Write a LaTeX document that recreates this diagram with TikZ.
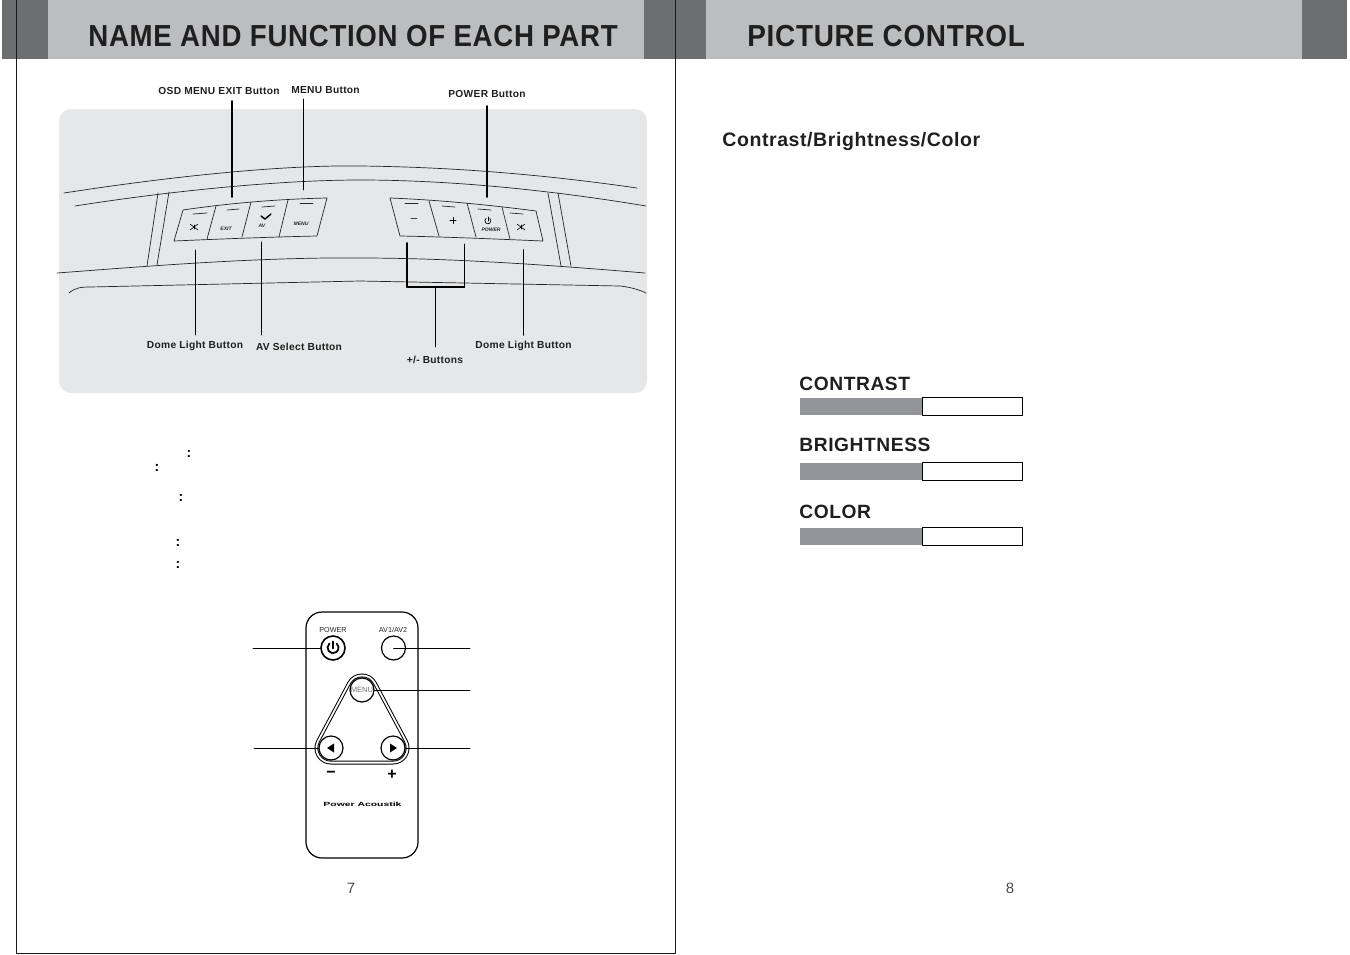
\documentclass[tikz,border=0pt]{standalone}
\usepackage{fontspec}
\setmainfont{Liberation Sans}
\newfontfamily\spacedfont[LetterSpace=3]{Liberation Sans}
\newfontfamily\titlefont[LetterSpace=2.5]{Liberation Sans}
\definecolor{bandlight}{HTML}{BCBDBF}
\definecolor{banddark}{HTML}{6D6E70}
\definecolor{panelgrey}{HTML}{E6E7E8}
\definecolor{barfill}{HTML}{939598}
\tikzset{
	title/.style={anchor=west,inner sep=0pt,xscale=0.91,font=\titlefont\fontsize{15.2}{16}\selectfont\bfseries,text=black!88},
	partlabel/.style={inner sep=0pt,font=\spacedfont\fontsize{5.1}{6}\selectfont\bfseries,text=black!88},
	barlabel/.style={anchor=west,inner sep=0pt,font=\spacedfont\fontsize{9.6}{11}\selectfont\bfseries,text=black!88},
	keylabel/.style={inner sep=0pt,font=\fontsize{2.5}{3}\selectfont\bfseries\itshape,text=black!85},
	colonmark/.style={inner sep=0pt,font=\fontsize{7}{8}\selectfont\bfseries},
	pagenum/.style={inner sep=0pt,font=\fontsize{7.5}{9}\selectfont,text=black!70},
	remotelabel/.style={inner sep=0pt,font=\fontsize{3.6}{4}\selectfont,text=black!85},
	remotekey/.style={circle,draw,fill=white,line width=0.6pt,minimum size=12pt,inner sep=0pt},
	thin leader/.style={line width=0.45pt},
	thick leader/.style={line width=0.95pt},
	outline/.style={line width=0.35pt,black!85},
	bar/.style={draw=black,line width=0.4pt,fill=white}
}
\begin{document}
\begin{tikzpicture}[line cap=round,line join=round,x=0.5pt,y=-0.5pt]
	\useasboundingbox (0,0) rectangle (1350,954);
	% header bands
	\fill[banddark] (2,0) rectangle (48,59);
	\fill[bandlight] (48,0) rectangle (644,59);
	\fill[banddark] (644,0) rectangle (706,59);
	\fill[bandlight] (706,0) rectangle (1302,59);
	\fill[banddark] (1302,0) rectangle (1347,59);
	\draw[line width=0.45pt,black!90] (16,0) -- (16,953) -- (675.5,953) -- (675.5,0);
	\node[title] (titleleft) at (88,36) {NAME AND FUNCTION OF EACH PART};
	\node[title,xscale=1.01] (titleright) at (747,36) {PICTURE CONTROL};
	% dashboard
	\fill[panelgrey,rounded corners=6pt] (59,109) rectangle (647,393);
	\draw[outline] (64,193) .. controls (200,172) and (300,165) .. (360,166) .. controls (450,167) and (540,174) .. (637,188);
	\draw[outline] (75,206) .. controls (170,191) and (280,180) .. (360,180) .. controls (450,180) and (550,190) .. (646,206);
	\draw[outline] (57,273) .. controls (150,266) and (260,257) .. (360,258) .. controls (450,258) and (550,265) .. (645,273);
	\draw[outline] (69,293) .. controls (75,288) and (80,287) .. (90,287) -- (360,281) -- (620,286) .. controls (630,287) and (640,290) .. (646,293);
	\draw[outline] (158,193) -- (147,266);
	\draw[outline] (169,192) -- (157,265);
	\draw[outline] (548,193) -- (561,266);
	\draw[outline] (558,193) -- (571,266);
	% left keys
	\draw[outline] (183,210) .. controls (230,203) and (280,199) .. (327,198) -- (317,236) .. controls (270,237) and (220,239) .. (174,241) -- cycle;
	\draw[outline] (216,206) -- (207,239);
	\draw[outline] (251,202) -- (242,237);
	\draw[outline] (288,200) -- (279,237);
	\draw[outline] (193,214) -- (207,213);
	\draw[outline] (227,210) -- (239,209);
	\draw[outline] (262,207) -- (275,206);
	\draw[outline] (300,203) -- (313,203);
	\draw[line width=0.3pt] (190,224) -- (198,230);
	\draw[line width=0.3pt] (190,230) -- (198,224);
	\draw[line width=0.3pt] (194,225) -- (194,229);
	\draw[line width=0.7pt] (261,216) -- (265,219) -- (271,214);
	\node[keylabel] (keyexit) at (226,229) {EXIT};
	\node[keylabel] (keyav) at (262,226) {AV};
	\node[keylabel] (keymenu) at (301,224) {MENU};
	% right keys
	\draw[outline] (390,198) .. controls (440,200) and (490,205) .. (536,211) -- (543,241) .. controls (495,239) and (450,237) .. (400,236) -- cycle;
	\draw[outline] (429,201) -- (439,236);
	\draw[outline] (467,203) -- (476,237);
	\draw[outline] (502,207) -- (510,239);
	\draw[outline] (405,203) -- (418,203);
	\draw[outline] (442,206) -- (455,207);
	\draw[outline] (478,209) -- (491,210);
	\draw[outline] (510,213) -- (523,214);
	\draw[line width=0.45pt,black!75] (411,218) -- (417,218);
	\draw[line width=0.45pt] (450,220.5) -- (456,220.5);
	\draw[line width=0.45pt] (453,217.5) -- (453,223.5);
	\draw[line width=0.35pt] (486,218.5) arc (230:-50:3);
	\draw[line width=0.35pt] (488,217) -- (488,221);
	\draw[line width=0.3pt] (517,224) -- (525,230);
	\draw[line width=0.3pt] (517,230) -- (525,224);
	\draw[line width=0.3pt] (521,225) -- (521,229);
	\node[keylabel] (keypower) at (491,230) {POWER};
	% part labels and leaders
	\node[partlabel] (lblexit) at (219,91) {OSD MENU EXIT Button};
	\node[partlabel] (lblmenu) at (325.5,90) {MENU Button};
	\node[partlabel] (lblpower) at (487,94) {POWER Button};
	\node[partlabel] (lbldomeleft) at (195,346) {Dome Light Button};
	\node[partlabel] (lblav) at (299,347) {AV Select Button};
	\node[partlabel] (lblplus) at (435,360) {+/- Buttons};
	\node[partlabel] (lbldomeright) at (523.5,346) {Dome Light Button};
	\coordinate (exittop) at (232,101);
	\coordinate (exitend) at (232,197);
	\coordinate (menutop) at (303.5,99);
	\coordinate (menuend) at (303.5,190);
	\coordinate (powertop) at (487,106);
	\coordinate (powerend) at (487,197);
	\coordinate (domeltop) at (195.5,250);
	\coordinate (domelend) at (195.5,335);
	\coordinate (avtop) at (261,242);
	\coordinate (avend) at (261,335);
	\coordinate (domertop) at (523.5,250);
	\coordinate (domerend) at (523.5,335);
	\coordinate (minustop) at (407,243);
	\coordinate (minusfoot) at (407,287);
	\coordinate (plustop) at (464.5,244);
	\coordinate (plusfoot) at (464.5,287);
	\coordinate (stemtop) at (435.5,287);
	\coordinate (stemend) at (435.5,347);
	\draw[thick leader] (exittop) -- (exitend);
	\draw[thin leader] (menutop) -- (menuend);
	\draw[thick leader] (powertop) -- (powerend);
	\draw[thin leader] (domeltop) -- (domelend);
	\draw[thin leader] (avtop) -- (avend);
	\draw[thick leader] (domertop) -- (domerend);
	\draw[thick leader] (minustop) -- (minusfoot);
	\draw[line width=0.7pt] (minusfoot) -- (plusfoot);
	\draw[thin leader] (plusfoot) -- (plustop);
	\draw[thin leader] (stemtop) -- (stemend);
	% colons
	\node[colonmark] (colona) at (189,454) {:};
	\node[colonmark] (colonb) at (157,468) {:};
	\node[colonmark] (colonc) at (181,498) {:};
	\node[colonmark] (colond) at (178,543) {:};
	\node[colonmark] (colone) at (178,565) {:};
	% remote
	\draw[line width=0.6pt,rounded corners=8pt] (306,612) rectangle (418,858);
	\draw[line width=16.5pt,black] (362,690) -- (331,748) -- (393,748) -- cycle;
	\draw[line width=15.5pt,white] (362,690) -- (331,748) -- (393,748) -- cycle;
	\draw[line width=13.6pt,black] (362,690) -- (331,748) -- (393,748) -- cycle;
	\draw[line width=12.6pt,white] (362,690) -- (331,748) -- (393,748) -- cycle;
	\fill[white] (362,690) -- (331,748) -- (393,748) -- cycle;
	\node[remotelabel] (rempowertext) at (333,630) {POWER};
	\node[remotelabel] (remavtext) at (393,630) {AV1/AV2};
	\node[remotekey,line width=0.8pt] (rempower) at (333,648) {};
	\node[remotekey] (remav) at (393.5,648) {};
	\node[remotekey,font=\fontsize{3.8}{4}\selectfont,text=black!55] (remmenu) at (362,690) {MENU};
	\node[remotekey] (remleft) at (331,748) {};
	\node[remotekey] (remright) at (393,748) {};
	\draw[line width=0.9pt] (329.5,643.5) arc (230:-50:5.5);
	\draw[line width=0.9pt] (333,641.5) -- (333,648.5);
	\fill (327,748) -- (334,743.5) -- (334,752.5) -- cycle;
	\fill (397,748) -- (390,743.5) -- (390,752.5) -- cycle;
	\node[inner sep=0pt,font=\fontsize{8}{9}\selectfont\bfseries] (remminus) at (331,774) {−};
	\node[inner sep=0pt,font=\fontsize{8}{9}\selectfont\bfseries] (remplus) at (392,774.5) {+};
	\node[inner sep=0pt,xscale=1.3,yscale=0.75,font=\fontsize{4}{5}\selectfont\bfseries] (remlogo) at (362.5,804) {Power Acoustik};
	\coordinate (powerfree) at (253,648);
	\coordinate (avfree) at (470,648);
	\coordinate (menufree) at (470,690);
	\coordinate (leftfree) at (254,748);
	\coordinate (rightfree) at (470,748);
	\draw[thin leader] (powerfree) -- (rempower.west);
	\draw[thin leader] (avfree) -- (remav.center);
	\draw[thin leader] (menufree) -- (remmenu.east);
	\draw[thin leader] (leftfree) -- (remleft);
	\draw[thin leader] (rightfree) -- (remright);
	\node[pagenum] (pageseven) at (351,888) {7};
	\node[pagenum] (pageeight) at (1010,888) {8};
	% picture control
	\node[barlabel,font=\spacedfont\fontsize{9.75}{11}\selectfont\bfseries] (heading) at (722,141.5) {Contrast/Brightness/Color};
	\node[barlabel] (lblcontrast) at (799,384) {CONTRAST};
	\node[barlabel] (lblbrightness) at (799,445) {BRIGHTNESS};
	\node[barlabel] (lblcolor) at (799,511.5) {COLOR};
	\draw[bar] (922,397.5) rectangle (1022.5,415);
	\fill[barfill] (800,397.5) rectangle (922,415);
	\draw[bar] (922,462.5) rectangle (1022.5,480);
	\fill[barfill] (800,462.5) rectangle (922,480);
	\draw[bar] (922,527.5) rectangle (1022.5,545);
	\fill[barfill] (800,527.5) rectangle (922,545);
\end{tikzpicture}
\end{document}
